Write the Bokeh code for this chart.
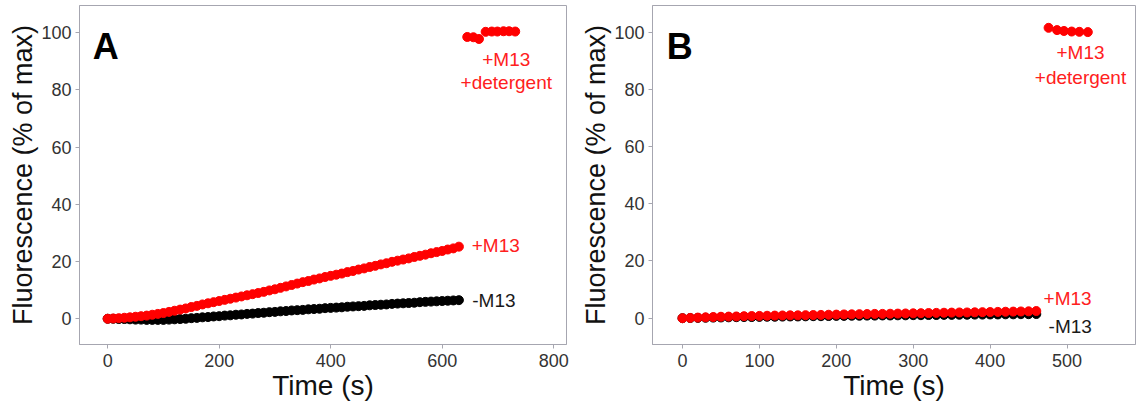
from bokeh.plotting import figure
from bokeh.layouts import row
from bokeh.models import Label, FixedTicker, Range1d
from bokeh.embed import file_html
from bokeh.resources import INLINE

# ---------------- Panel A data ----------------
time_a = [0, 10, 20, 30, 40, 50, 60, 70, 80, 90, 100, 110, 120, 130, 140, 150,
          160, 170, 180, 190, 200, 210, 220, 230, 240, 250, 260, 270, 280, 290,
          300, 310, 320, 330, 340, 350, 360, 370, 380, 390, 400, 410, 420, 430,
          440, 450, 460, 470, 480, 490, 500, 510, 520, 530, 540, 550, 560, 570,
          580, 590, 600, 610, 620, 630]
plus_m13_a = [0.0, 0.1, 0.2, 0.35, 0.5, 0.7, 0.9, 1.1, 1.4, 1.7, 2.0, 2.4, 2.8,
              3.2, 3.6, 4.1, 4.5, 5.0, 5.4, 5.8, 6.2, 6.6, 7.0, 7.4, 7.8, 8.2,
              8.6, 9.0, 9.4, 9.9, 10.3, 10.8, 11.3, 11.8, 12.3, 12.8, 13.2, 13.7,
              14.1, 14.6, 15.0, 15.4, 15.8, 16.3, 16.7, 17.2, 17.6, 18.1, 18.5,
              19.0, 19.4, 19.9, 20.3, 20.7, 21.1, 21.6, 22.0, 22.4, 22.9, 23.3,
              23.7, 24.2, 24.6, 25.2]
minus_m13_a = [0.0, 0.0, -0.1, -0.1, -0.2, -0.3, -0.3, -0.4, -0.4, -0.4, -0.4,
               -0.3, -0.2, -0.1, 0.0, 0.2, 0.3, 0.5, 0.6, 0.8, 0.9, 1.1, 1.2,
               1.4, 1.5, 1.7, 1.8, 2.0, 2.1, 2.3, 2.4, 2.6, 2.7, 2.9, 3.0, 3.1,
               3.3, 3.4, 3.5, 3.7, 3.8, 3.9, 4.0, 4.2, 4.3, 4.4, 4.5, 4.7, 4.8,
               4.9, 5.0, 5.2, 5.3, 5.4, 5.5, 5.6, 5.8, 5.9, 6.0, 6.1, 6.2, 6.3,
               6.4, 6.5]
det_time_a = [645, 656, 666, 678, 689, 699, 710, 720, 731]
det_a = [98.5, 98.4, 97.8, 100.3, 100.4, 100.4, 100.5, 100.5, 100.4]

# ---------------- Panel B data ----------------
time_b = [0, 10, 20, 30, 40, 50, 60, 70, 80, 90, 100, 110, 120, 130, 140, 150,
          160, 170, 180, 190, 200, 210, 220, 230, 240, 250, 260, 270, 280, 290,
          300, 310, 320, 330, 340, 350, 360, 370, 380, 390, 400, 410, 420, 430,
          440, 450, 460]
plus_m13_b = [0.0, 0.1, 0.2, 0.3, 0.4, 0.5, 0.55, 0.6, 0.7, 0.75, 0.8, 0.85,
              0.9, 0.95, 1.0, 1.0, 1.05, 1.1, 1.15, 1.2, 1.25, 1.3, 1.35, 1.4,
              1.45, 1.5, 1.5, 1.55, 1.6, 1.65, 1.7, 1.75, 1.8, 1.85, 1.9, 1.95,
              2.0, 2.0, 2.05, 2.1, 2.15, 2.2, 2.25, 2.3, 2.35, 2.4, 2.5]
minus_m13_b = [0.0, 0.05, 0.1, 0.15, 0.2, 0.25, 0.3, 0.35, 0.4, 0.4, 0.45, 0.5,
               0.5, 0.55, 0.6, 0.6, 0.65, 0.7, 0.7, 0.75, 0.8, 0.8, 0.85, 0.85,
               0.9, 0.9, 0.95, 0.95, 1.0, 1.0, 1.05, 1.05, 1.1, 1.1, 1.15, 1.15,
               1.2, 1.2, 1.25, 1.25, 1.3, 1.3, 1.35, 1.35, 1.4, 1.4, 1.45]
det_time_b = [476, 487, 496, 506, 516, 527]
det_b = [101.5, 100.7, 100.4, 100.2, 100.1, 100.0]

y_ticks = [0, 20, 40, 60, 80, 100]
x_ticks_a = [0, 200, 400, 600, 800]
x_ticks_b = [0, 100, 200, 300, 400, 500]

FONT = "Liberation Sans"
RED = "#ff0000"
LABEL_RED = "#ff2020"
GRAY = "#a6a6b0"


def style(p, xticks):
    p.xgrid.grid_line_color = None
    p.ygrid.grid_line_color = None
    p.outline_line_color = GRAY
    p.outline_line_width = 1
    p.yaxis.ticker = FixedTicker(ticks=y_ticks)
    p.xaxis.ticker = FixedTicker(ticks=xticks)
    for ax in (p.xaxis[0], p.yaxis[0]):
        ax.axis_line_color = GRAY
        ax.major_tick_line_color = GRAY
        ax.minor_tick_line_color = None
        ax.major_tick_out = 4
        ax.major_tick_in = 0
        ax.major_label_text_font = FONT
        ax.major_label_text_font_size = "18px"
        ax.major_label_text_color = "#333333"
        ax.axis_label_text_font = FONT
        ax.axis_label_text_font_size = "27px"
        ax.axis_label_text_font_style = "normal"
        ax.axis_label_text_color = "#111111"
    p.xaxis.axis_label_text_font_size = "28px"
    p.xaxis.major_label_standoff = 5
    p.xaxis.axis_label_standoff = 0
    p.yaxis.major_label_standoff = 4
    p.yaxis.axis_label_standoff = 0


def add_text(p, x, y, txt, color, align="left"):
    p.add_layout(Label(x=x, y=y, text=txt, text_color=color,
                       text_font=FONT, text_font_size="19px",
                       text_align=align, text_baseline="middle"))


# ---------------- Figure A ----------------
pA = figure(width=575, height=408, output_backend="svg", toolbar_location=None,
            x_range=Range1d(-50.5, 823), y_range=Range1d(-9, 109.5),
            min_border_left=79, min_border_right=9, min_border_top=5,
            min_border_bottom=62, x_axis_label="Time (s)",
            y_axis_label="Fluorescence (% of max)")
style(pA, x_ticks_a)
pA.scatter(time_a, minus_m13_a, size=9, color="black")
pA.scatter(time_a, plus_m13_a, size=9, color=RED)
pA.scatter(det_time_a, det_a, size=9, color=RED)
add_text(pA, 653, 25.6, "+M13", LABEL_RED)
add_text(pA, 654, 6.4, "-M13", "#1a1a1a")
add_text(pA, 715, 90.7, "+M13", LABEL_RED, "center")
add_text(pA, 715, 82.6, "+detergent", LABEL_RED, "center")
pA.add_layout(Label(x=-26.6, y=95.3, text="A", text_font=FONT,
                    text_font_size="36px", text_font_style="bold",
                    text_color="black", text_baseline="alphabetic"))

# ---------------- Figure B ----------------
pB = figure(width=563, height=408, output_backend="svg", toolbar_location=None,
            x_range=Range1d(-39, 589), y_range=Range1d(-9.2, 109.3),
            min_border_left=77, min_border_right=3, min_border_top=5,
            min_border_bottom=64, x_axis_label="Time (s)",
            y_axis_label="Fluorescence (% of max)")
style(pB, x_ticks_b)
pB.scatter(time_b, minus_m13_b, size=9, color="black")
pB.scatter(time_b, plus_m13_b, size=9, color=RED)
pB.scatter(det_time_b, det_b, size=9, color=RED)
add_text(pB, 469.5, 7.0, "+M13", LABEL_RED)
add_text(pB, 476, -2.9, "-M13", "#1a1a1a")
add_text(pB, 517.5, 93.0, "+M13", LABEL_RED, "center")
add_text(pB, 517.5, 84.3, "+detergent", LABEL_RED, "center")
pB.add_layout(Label(x=-20.4, y=95.0, text="B", text_font=FONT,
                    text_font_size="36px", text_font_style="bold",
                    text_color="black", text_baseline="alphabetic"))

layout = row(pA, pB)
open("out.html", "w").write(file_html(layout, INLINE))
